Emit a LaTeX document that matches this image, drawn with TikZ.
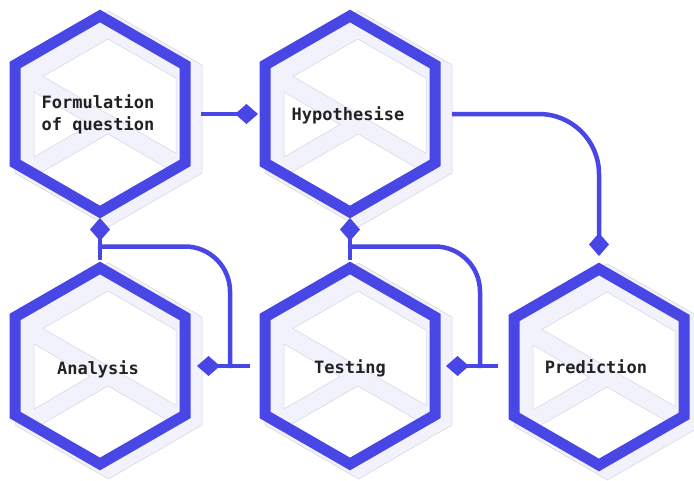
\documentclass[tikz,border=0pt]{standalone}
\usepackage{fontspec}
\newfontfamily\lblfont{DejaVu Sans Mono}
\usetikzlibrary{arrows.meta,calc}
\definecolor{hexblue}{RGB}{72,70,229}
\definecolor{lav}{RGB}{242,242,253}
\definecolor{lavline}{RGB}{212,212,226}
\definecolor{txt}{RGB}{34,34,34}
\tikzset{
  hexcell/.pic={
    % lavender shadow hexagon
    \fill[lav, draw=lavline, line width=0.5pt]
      (8.5,-103) -- (102,-49) -- (102,59) -- (8.5,113) -- (-85,59) -- (-85,-49) -- cycle;
    % interior
    \begin{scope}
      \clip (0,-98) -- (85,-49) -- (85,49) -- (0,98) -- (-85,49) -- (-85,-49) -- cycle;
      \fill[lav] (-90,-110) rectangle (90,110);
      \fill[white, draw=lavline, line width=0.5pt]
        (-57,-37.5) -- (8,-75) -- (76,-35.8) -- (76,39.3) -- cycle;
      \fill[white, draw=lavline, line width=0.5pt]
        (-66,-22) -- (-66,43) -- (-10,10.5) -- cycle;
      \fill[white, draw=lavline, line width=0.5pt]
        (8,20) -- (76,59.2) -- (8,98.4) -- (-60,59.2) -- cycle;
    \end{scope}
    % blue frame
    \draw[hexblue, line width=11pt, line join=miter]
      (0,-98) -- (85,-49) -- (85,49) -- (0,98) -- (-85,49) -- (-85,-49) -- cycle;
  },
  lbl/.style={font=\lblfont\bfseries\fontsize{17}{22}\selectfont, text=txt, align=center, inner sep=0pt},
  conn/.style={draw=hexblue, line width=4.5pt},
  tipd/.style={-{Diamond[length=23pt,width=20pt]}},
}
\begin{document}
\begin{tikzpicture}[x=1pt,y=-1pt]
\useasboundingbox (0,0) rectangle (694,480);
\fill[white] (0,0) rectangle (694,480);

\coordinate (cf) at (100,114);
\coordinate (ch) at (350,114);
\coordinate (cp) at (599,367);
\coordinate (ct) at (350,366);
\coordinate (ca) at (100,366);

\foreach \c in {cf,ch,cp,ct,ca} { \pic at (\c) {hexcell}; }

\node[lbl, anchor=center] (f) at ($(cf)+(-2,0)$) {Formulation\\of question};
\node[lbl, anchor=base] (h) at ($(ch)+(-2,6)$) {Hypothesise};
\node[lbl, anchor=base] (p) at ($(cp)+(-3,6)$) {Prediction};
\node[lbl, anchor=base] (t) at ($(ct)+(0,7)$) {Testing};
\node[lbl, anchor=base] (a) at ($(ca)+(-2,8)$) {Analysis};

% Formulation -> Hypothesise
\draw[conn,tipd] ($(cf)+(101,0)$) -- ($(ch)+(-92,0)$);
% Hypothesise -> Prediction
\draw[conn,tipd,rounded corners=60pt] ($(ch)+(102,0)$) -| ($(cp)+(0,-111)$);
% Prediction -> Testing
\draw[conn,tipd] ($(ct)+(148,0)$) -- ($(ct)+(96,0)$);
\draw[conn,rounded corners=45pt] ($(ct)+(130,2)$) |- ($(ch)+(-2.25,132.5)$);
\draw[conn,tipd] ($(ct)+(0,-106)$) -- ($(ch)+(0,104)$);
% Testing -> Analysis
\draw[conn,tipd] ($(ca)+(150,0)$) -- ($(ca)+(97,0)$);
\draw[conn,rounded corners=45pt] ($(ca)+(130,2)$) |- ($(cf)+(-2.25,132.5)$);
\draw[conn,tipd] ($(ca)+(0,-106)$) -- ($(cf)+(0,104)$);
\end{tikzpicture}
\end{document}
